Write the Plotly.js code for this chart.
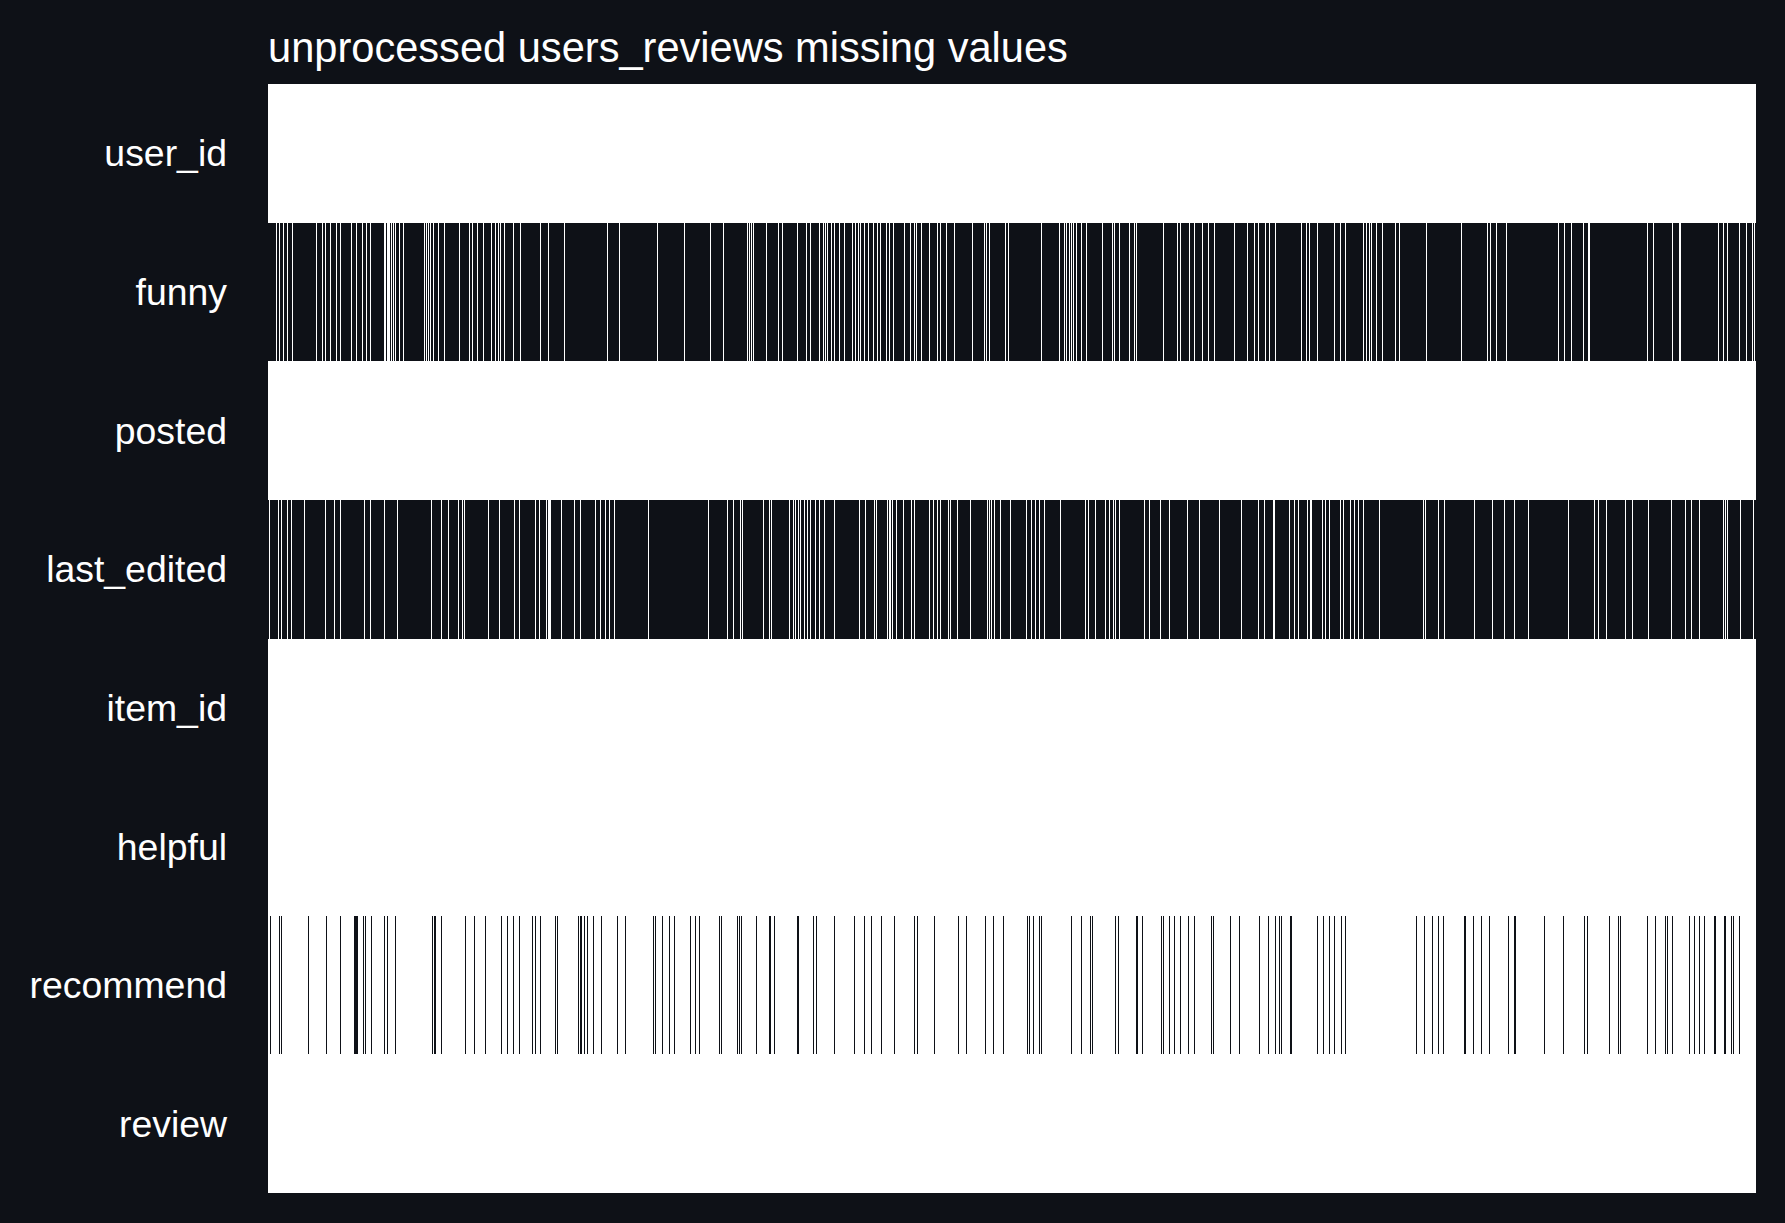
<!DOCTYPE html>
<html>
<head>
<meta charset="utf-8">
<script src="https://cdn.plot.ly/plotly-3.0.1.min.js"></script>
<style>
  html, body { margin: 0; padding: 0; background: #0e1117; }
  #chart { width: 1785px; height: 1223px; }
</style>
</head>
<body>
<div id="chart"></div>
<script>
// Columns of the users_reviews table (top to bottom)
const columns = ["user_id", "funny", "posted", "last_edited", "item_id", "helpful", "recommend", "review"];

// Records are grouped into bins along the horizontal axis
const binCount = 1488;

// Columns that are complete (no missing values in any bin)
const completeColumns = ["user_id", "posted", "item_id", "helpful", "review"];

// funny: mostly empty; bins where a value is present
const funnyPresentBins = [8, 11, 15, 19, 24, 48, 54, 57, 62, 68, 72, 83, 88, 94, 98, 102, 116, 117, 119, 120, 121, 123, 125, 127, 131, 135, 156, 158, 160, 162, 165, 170, 176, 191, 201, 204, 209, 215, 223, 227, 230, 232, 236, 245, 252, 272, 280, 296, 339, 351, 389, 416, 442, 455, 479, 481, 483, 485,
  498, 510, 514, 529, 538, 542, 551, 555, 557, 559, 563, 566, 571, 576, 584, 587, 590, 592, 596, 600, 605, 609, 612, 618, 621, 625, 636, 642, 646, 648, 653, 661, 669, 672, 678, 686, 704, 716, 718, 721, 737, 740, 773, 791, 796, 798, 801, 803, 805, 808, 813, 818, 834, 844, 846, 851, 861, 866, 868, 895, 909, 912, 921, 926, 934, 940, 946, 966, 979,
  986, 990, 997, 1001, 1007, 1033, 1038, 1041, 1049, 1066, 1072, 1077, 1095, 1098, 1101, 1103, 1108, 1114, 1127, 1131, 1158, 1193, 1219, 1222, 1228, 1238, 1290, 1296, 1303, 1315, 1320, 1321, 1379, 1385, 1404, 1411, 1412, 1450, 1455, 1459, 1471, 1478, 1484, 1486];

// last_edited: mostly empty; bins where a value is present
const lastEditedPresentBins = [1, 10, 13, 19, 23, 36, 57, 66, 72, 96, 102, 116, 129, 163, 173, 180, 190, 194, 196, 220, 231, 246, 251, 267, 271, 278, 280, 281, 282, 293, 306, 312, 327, 332, 337, 341, 346, 380, 440, 459, 465, 472, 474,
  495, 501, 503, 521, 525, 527, 530, 532, 536, 539, 542, 547, 551, 556, 566, 591, 597, 606, 608, 619, 621, 622, 624, 628, 635, 643, 646, 661, 665, 669, 672, 680, 682, 689, 702, 719, 721, 723, 726, 732, 742, 758, 763, 767, 771, 776, 792, 817, 820, 827, 837, 841, 845, 847, 851, 876, 881, 892, 901, 919, 931, 951, 973,
  990, 996, 1005, 1006, 1021, 1026, 1030, 1039, 1042, 1043, 1054, 1057, 1061, 1072, 1075, 1082, 1086, 1090, 1095, 1111, 1155, 1157, 1170, 1176, 1206, 1224, 1236, 1246, 1260, 1300, 1326, 1330, 1338, 1357, 1364, 1380, 1403, 1417, 1423, 1431, 1455, 1457, 1459, 1472, 1485];

// recommend: mostly filled; bins where the value is missing/false
const recommendMissingBins = [2, 11, 13, 40, 58, 72, 86, 87, 88, 89, 95, 97, 103, 116, 119, 127, 164, 166, 167, 173, 197, 206, 217, 233, 239, 245, 251, 264, 267, 272, 287, 289, 310, 312, 313, 316, 319, 325, 333, 349, 357, 385, 387, 394, 401, 406, 422, 427, 431, 451, 453, 469, 471, 473, 488,
  501, 502, 506, 529, 530, 545, 548, 566, 586, 596, 603, 613, 626, 646, 649, 666, 690, 698, 717, 725, 735, 759, 761, 765, 771, 773, 803, 813, 822, 824, 847, 850, 868, 869, 874, 893, 895, 901, 906, 912, 920, 926, 943, 945, 962, 971,
  991, 1000, 1007, 1011, 1013, 1022, 1023, 1049, 1055, 1061, 1066, 1073, 1077, 1148, 1156, 1164, 1170, 1175, 1196, 1197, 1205, 1213, 1221, 1240, 1246, 1247, 1276, 1295, 1316, 1319, 1341, 1350, 1352, 1379, 1387, 1397, 1399, 1404, 1421, 1426, 1431, 1436, 1446, 1447, 1456, 1457, 1463, 1465, 1471];

const titleText = "unprocessed users_reviews missing values";

// ---- build the matrix from the arrays above ----
function rowFrom(defaultVal, exceptionBins) {
  const r = new Array(binCount).fill(defaultVal);
  exceptionBins.forEach(b => { r[b] = 1 - defaultVal; });
  return r;
}
const rows = {};
completeColumns.forEach(c => { rows[c] = rowFrom(1, []); });
rows["funny"] = rowFrom(0, funnyPresentBins);
rows["last_edited"] = rowFrom(0, lastEditedPresentBins);
rows["recommend"] = rowFrom(1, recommendMissingBins);

const z = columns.map(c => rows[c]);
const xBins = Array.from({length: binCount}, (_, i) => i);

const bg = "#0e1117";
const trace = {
  type: "heatmap",
  z: z,
  x: xBins,
  y: columns,
  zmin: 0, zmax: 1,
  colorscale: [[0, bg], [1, "#ffffff"]],
  showscale: false,
  zsmooth: false,
  xgap: 0, ygap: 0,
  hoverinfo: "skip"
};

const layout = {
  width: 1785, height: 1223,
  paper_bgcolor: bg, plot_bgcolor: bg,
  margin: {l: 268, r: 29, t: 84, b: 30, pad: 0},
  title: {
    text: titleText,
    font: {family: "Liberation Sans, Arial, sans-serif", size: 41.6, color: "#ffffff"},
    xref: "paper", x: 0, xanchor: "left",
    yref: "container", y: 1 - 47.5/1223, yanchor: "middle",
    pad: {l: 0, r: 0, t: 0, b: 0}
  },
  font: {family: "Liberation Sans, Arial, sans-serif", color: "#ffffff"},
  xaxis: {
    visible: false,
    range: [-0.5, binCount - 0.5],
    showgrid: false, zeroline: false, fixedrange: true
  },
  yaxis: {
    autorange: "reversed",
    showgrid: false, zeroline: false, showline: false,
    ticks: "",
    ticklabelstandoff: 40,
    tickfont: {family: "Liberation Sans, Arial, sans-serif", size: 37.4, color: "#ffffff"},
    fixedrange: true
  },
  showlegend: false
};

Plotly.newPlot("chart", [trace], layout, {displayModeBar: false, staticPlot: true});
</script>
</body>
</html>
